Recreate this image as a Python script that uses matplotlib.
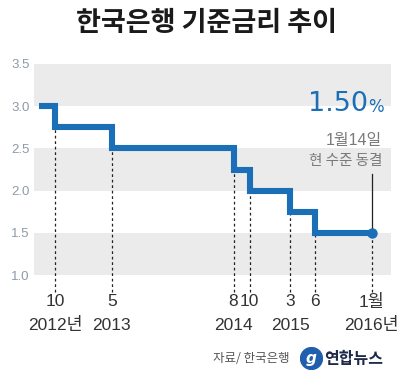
import matplotlib
matplotlib.use("Agg")
import matplotlib.pyplot as plt
import matplotlib.transforms as mtransforms
from matplotlib.patches import Ellipse

# ---- data (months since Jan 2012 = 0) ----
change_months = [7, 9, 16, 31, 33, 38, 41, 48]
rates = [3.0, 2.75, 2.5, 2.25, 2.0, 1.75, 1.5, 1.5]
marker_months = [9, 16, 31, 33, 38, 41, 48]
marker_labels = ["10", "5", "8", "10", "3", "6", "1월"]
year_months = [9, 16, 31, 38, 48]
year_labels = ["2012년", "2013", "2014", "2015", "2016년"]
ytick_vals = [1.0, 1.5, 2.0, 2.5, 3.0, 3.5]
ytick_labels = ["1.0", "1.5", "2.0", "2.5", "3.0", "3.5"]
bands = [(1.0, 1.5), (2.0, 2.5), (3.0, 3.5)]
title = "한국은행 기준금리 추이"
current_rate = "1.50"
note1 = "1월14일"
note2 = "현 수준 동결"
source = "자료/ 한국은행"
logo = "연합뉴스"

KR = ["Noto Sans CJK KR", "DejaVu Sans"]
NUM = ["Liberation Sans", "Noto Sans CJK KR", "DejaVu Sans"]
BLUE = "#1b6fb6"

W, H = 412, 377
fig = plt.figure(figsize=(W / 100, H / 100), dpi=100)
fig.patch.set_facecolor("white")

def fx(px):
    return px / W

def fy(py):
    return 1 - py / H

# axes: x pixels 34..390, y pixels 64 (3.5) .. 292 (0.8)
ax = fig.add_axes([fx(34), fy(292), fx(391) - fx(34), fy(64) - fy(292)])
ax.set_xlim(6.41, 50.4)
ax.set_ylim(0.8, 3.5)
for s in ax.spines.values():
    s.set_visible(False)
ax.set_facecolor("none")

for lo, hi in bands:
    ax.axhspan(lo, hi, color="#ebebeb", lw=0, zorder=0)

# step line
ax.step(change_months, rates, where="post", color=BLUE, lw=4.4,
        solid_joinstyle="miter", solid_capstyle="butt", zorder=3)
ax.plot([change_months[-1]], [rates[-1]], "o", color=BLUE, ms=6.5, zorder=4)

# dashed guides from each change down to the bottom
for m in marker_months:
    idx = change_months.index(m)
    top = rates[idx]
    ax.plot([m, m], [0.8, top], ls=(0, (2.2, 2.2)), color="#222222",
            lw=0.9, zorder=2, clip_on=False)

# solid leader from annotation to the final dot
ax.plot([48, 48], [rates[-1], 2.2], color="#222222", lw=0.9, zorder=2)

ax.set_xticks([])
ax.set_yticks(ytick_vals)
ax.set_yticklabels(ytick_labels, family=NUM, fontsize=9.5, color="#8d9aa8")
ax.tick_params(axis="y", length=0, pad=3)

trans = mtransforms.blended_transform_factory(ax.transData, fig.transFigure)
for m, lab in zip(marker_months, marker_labels):
    ax.text(m, fy(302), lab, transform=trans, ha="center", va="center",
            family=NUM, fontsize=12.5, color="#333333", clip_on=False)
for m, lab in zip(year_months, year_labels):
    ax.text(m, fy(325), lab, transform=trans, ha="center", va="center",
            family=NUM, fontsize=12.5, color="#333333", clip_on=False)

# title
fig.text(0.5, fy(23), title, ha="center", va="center", family=KR,
         fontsize=19.5, fontweight="bold", color="#1a1a1a")

# annotation
fig.text(fx(368), fy(104), current_rate, ha="right", va="center",
         family=["DejaVu Sans"], fontsize=19.5, color=BLUE)
fig.text(fx(368), fy(107), "%", ha="left", va="center",
         family=["DejaVu Sans"], fontsize=12, color=BLUE)
fig.text(fx(382), fy(140), note1, ha="right", va="center", family=NUM,
         fontsize=11.5, color="#7a7a7a")
fig.text(fx(382), fy(161), note2, ha="right", va="center", family=KR,
         fontsize=10.5, color="#7a7a7a")

# footer
fig.text(fx(290), fy(359), source, ha="right", va="center", family=KR,
         fontsize=9, color="#555555", style="italic")
logo_ax = fig.add_axes([fx(300), fy(370), fx(323) - fx(300), fy(347) - fy(370)])
logo_ax.set_xlim(0, 1)
logo_ax.set_ylim(0, 1)
logo_ax.axis("off")
logo_ax.add_patch(Ellipse((0.5, 0.5), 0.95, 0.95, color="#1f5fae"))
logo_ax.text(0.5, 0.48, "g", ha="center", va="center", color="white",
             fontsize=11, fontweight="bold", style="italic")
fig.text(fx(324), fy(359), logo, ha="left", va="center", family=KR,
         fontsize=11.5, fontweight="bold", color="#1e2a4a")

fig.savefig("out.png", dpi=100)
